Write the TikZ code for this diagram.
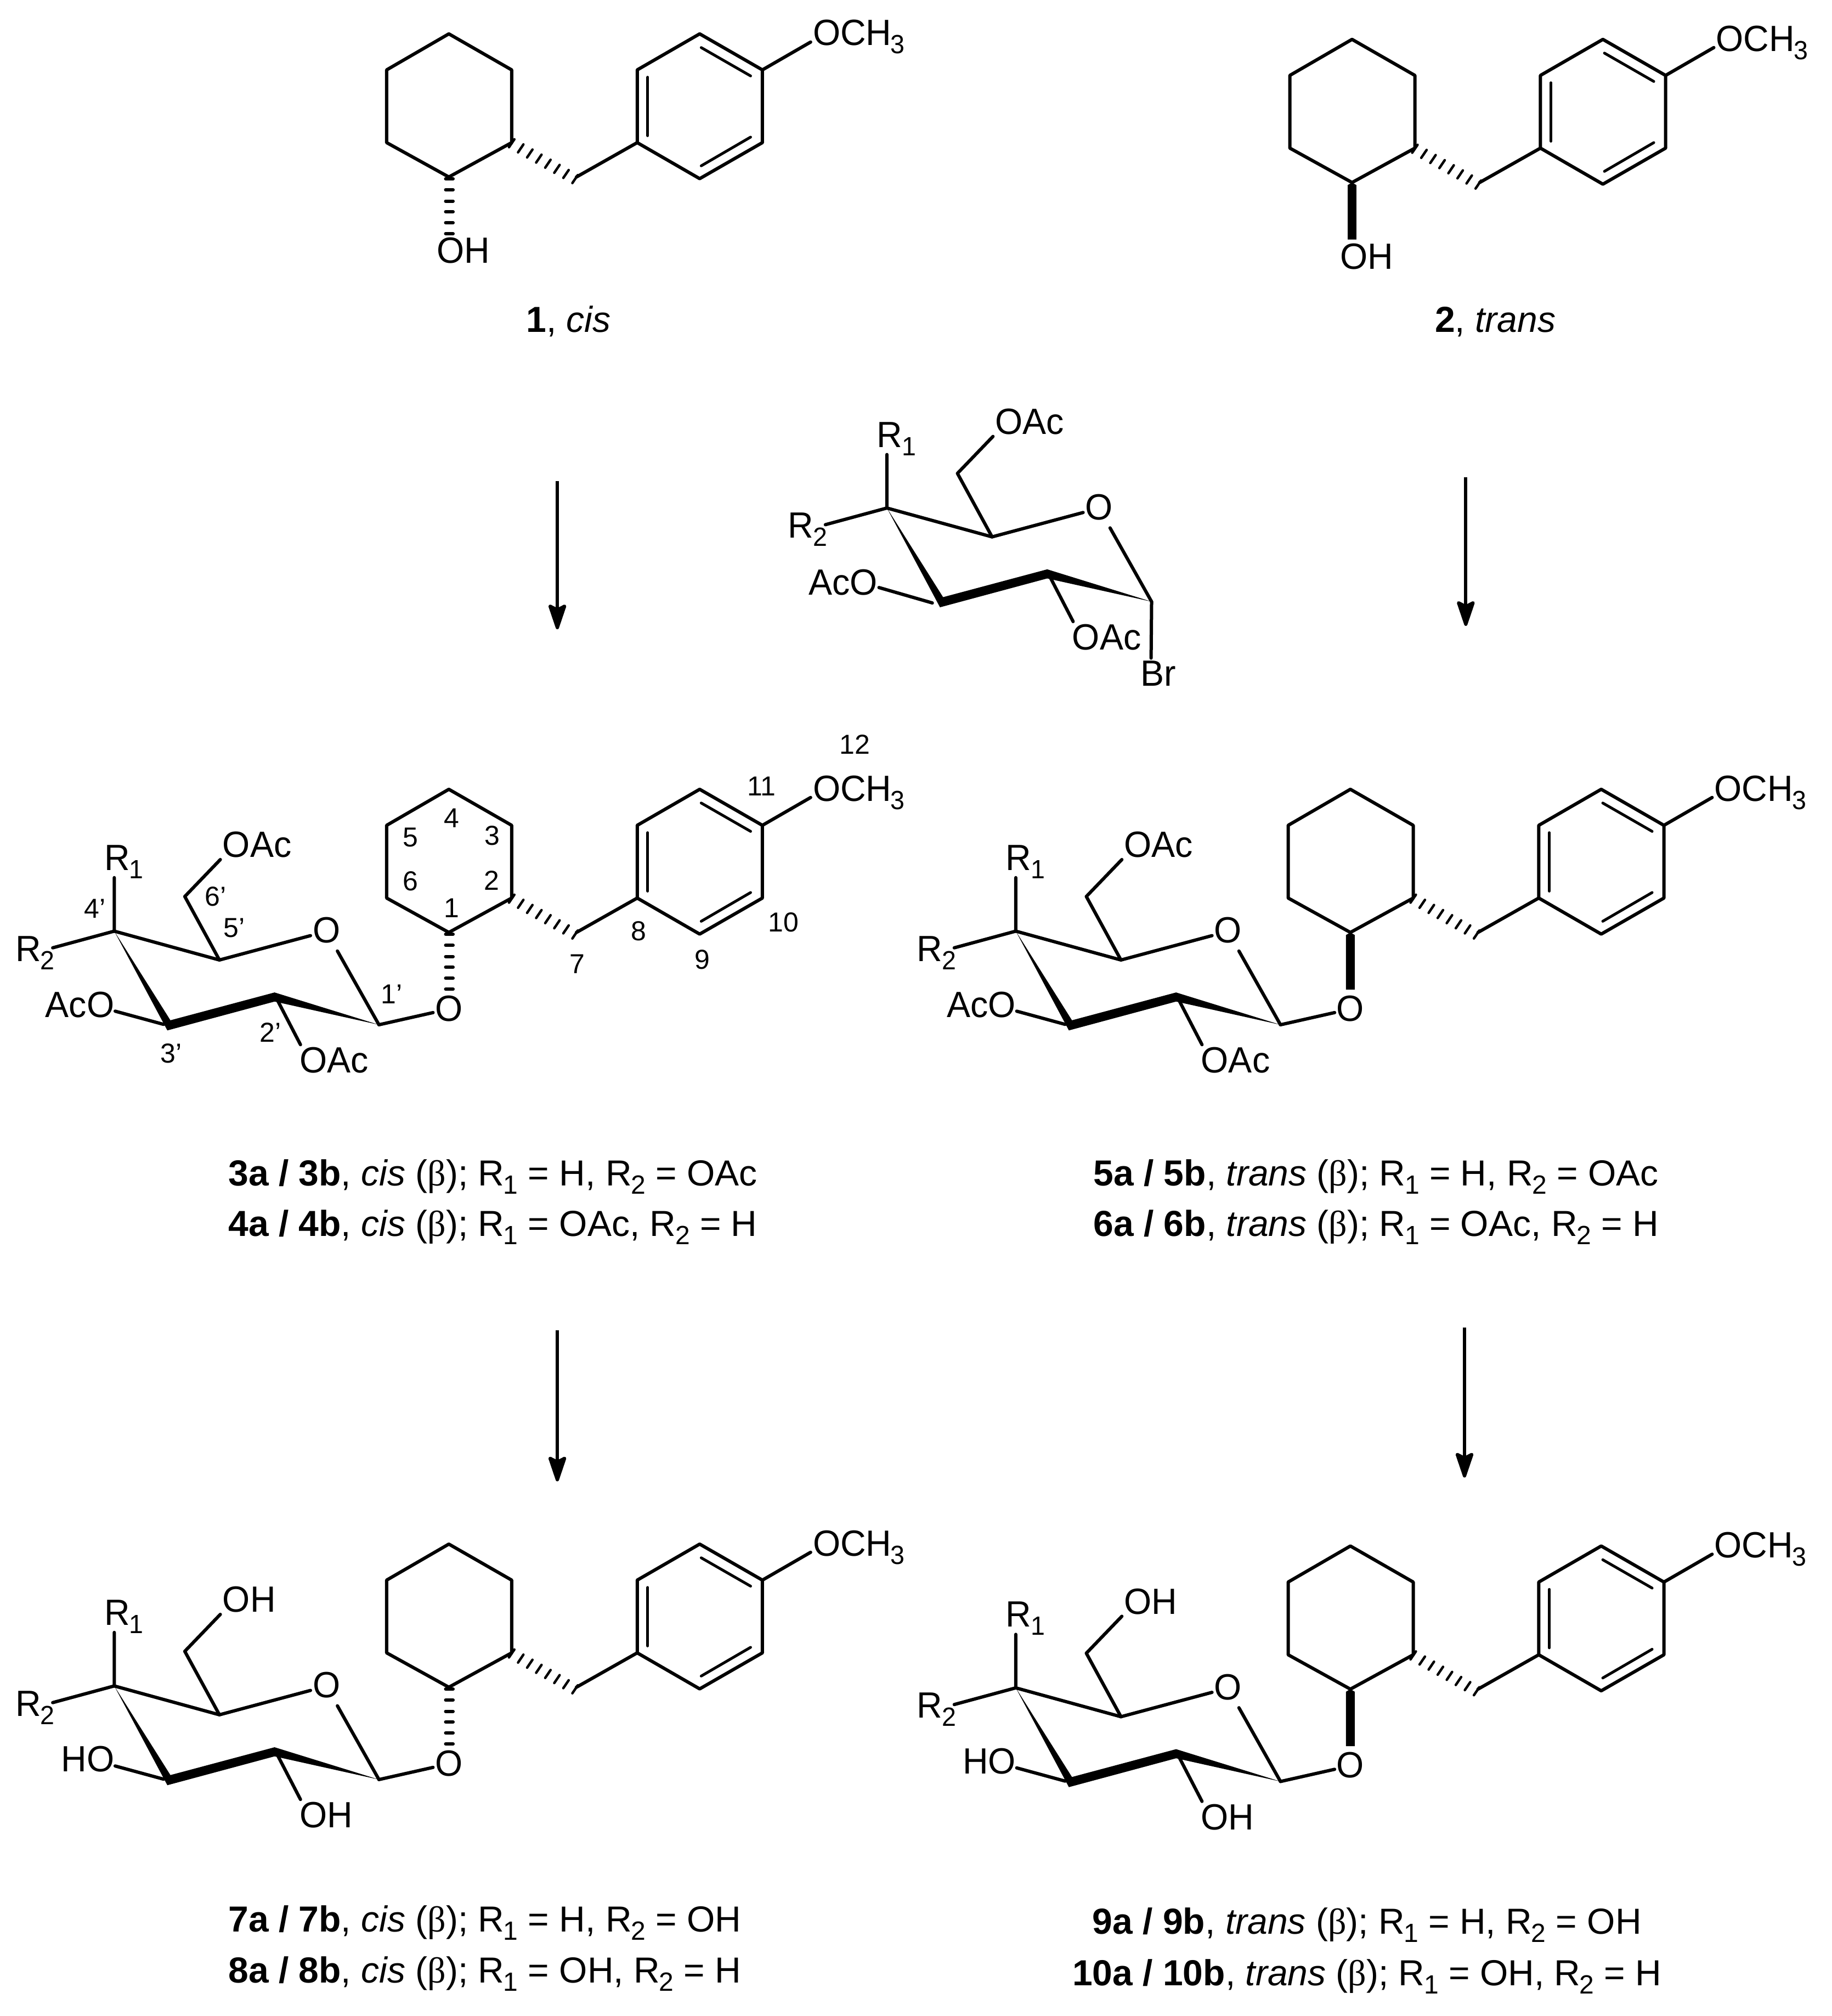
\documentclass[tikz,border=0pt]{standalone}
\usepackage{fontspec}
\setmainfont{Liberation Sans}
\newfontfamily\greekf{Liberation Serif}
\newfontfamily\lblfont[FakeStretch=0.97]{Liberation Sans}
\usetikzlibrary{arrows.meta}
\newcommand\lowidx[1]{\kern-1.5pt\raisebox{-15pt}{\fontsize{48}{48}\selectfont #1}}
\tikzset{
  bond/.style={line width=6pt,line join=round,line cap=round},
  innerbond/.style={line width=5pt,line cap=round},
  lbl/.style={inner sep=0pt,outer sep=0pt,anchor=base west,font=\lblfont\fontsize{66.5}{70}\selectfont},
  lblr/.style={lbl,anchor=base east},
  lblc/.style={lbl,anchor=base},
  numlbl/.style={inner sep=0pt,anchor=center,font=\fontsize{50}{54}\selectfont},
  captxt/.style={inner sep=0pt,anchor=base,font=\fontsize{66}{70}\selectfont},
  rxn/.style={line width=6pt,-{Stealth[length=54pt,width=36pt,inset=9pt,round]}},
}
% cyclohexane + hashed bond + benzyl + OCH3, local coordinates
\newcommand\Benzyl{%
  \coordinate (c1) at (350,138);\coordinate (c2) at (399,111.2);
  \coordinate (c3) at (399,54.5);\coordinate (c4) at (350,26.4);
  \coordinate (c5) at (301.5,54.5);\coordinate (c6) at (301.5,111.2);
  \coordinate (c7) at (449.5,138);\coordinate (c8) at (496.9,111.2);
  \coordinate (c9) at (545.6,139.3);\coordinate (c10) at (594.5,111.2);
  \coordinate (c11) at (594.5,54.5);\coordinate (c12) at (545.6,26.4);
  \coordinate (c13) at (496.9,54.5);\coordinate (oe) at (632.1,32.8);
  \draw[bond] (c1)--(c2)--(c3)--(c4)--(c5)--(c6)--cycle;
  \draw[bond] (c8)--(c9)--(c10)--(c11)--(c12)--(c13)--cycle;
  \draw[bond] (c7)--(c8);
  \draw[bond] (c11)--(oe);
  \draw[innerbond] (505.1,60.2)--(505.1,105.8);
  \draw[innerbond] (546.8,37.1)--(585.3,59.2);
  \draw[innerbond] (585.3,106.9)--(546.8,129.3);
  \foreach \k in {0,...,7}
    \draw[line width=4.5pt,line cap=round] (399+7.06*\k-2.1,111.7+3.99*\k+3.1)--(399+7.06*\k+2.1,111.7+3.99*\k-3.1);
  \node[lbl] (och) at (633.9,35.5) {OCH\lowidx{3}};
}
\newcommand\HashO{%
  \foreach \y in {139.4,148,156.8,165.1,173.7,182.2}
    \draw[line width=6pt,line cap=round] (350.4-2.9,\y)--(350.4+2.9,\y);
}
\newcommand\BoldO{%
  \fill (350-3.4,140)--(350,138)--(350+3.4,140)--(350+3.4,182.5)--(350-3.4,182.5)--cycle;
}
% sugar, local origin on C4'; #1 text of C6' substituent, #2 text of C2' substituent
\newcommand\Sugar[2]{%
  \coordinate (s4) at (0,0);\coordinate (s5) at (82,22.5);
  \coordinate (sob) at (153,3.5);\coordinate (soc) at (174,15.5);
  \coordinate (s1) at (206.4,73);\coordinate (s2) at (125,49.5);
  \coordinate (s3) at (43,74);\coordinate (s6) at (55,-27);
  \coordinate (s6e) at (82.7,-55.8);\coordinate (r1e) at (0,-41.7);
  \coordinate (r2e) at (-48,13);\coordinate (s2e) at (145.2,88.5);
  \draw[bond] (r1e)--(s4)--(s5)--(sob);
  \draw[bond] (r2e)--(s4);
  \draw[bond] (soc)--(s1);
  \draw[bond] (s5)--(s6)--(s6e);
  \draw[bond] (s2)--(s2e);
  \fill[line join=round] (s4)--(43.8,69.5)--(125,47.8)--(s1)--(125,54.9)--(41.4,77.4)--cycle;
  \node[lbl] (ttop) at (84.5,-57.5) {#1};
  \node[lbl] (rone) at (-7.7,-47.5) {R\lowidx{1}};
  \node[lbl] (rtwo) at (-77,23.4) {R\lowidx{2}};
  \node[lblc] (ring) at (165.5,9.1) {O};
  \node[lbl] (tlow) at (144.5,110.5) {#2};
}
\newcommand\Mol[3]{% #1 top text, #2 low text, #3 left text
  \Benzyl
  \begin{scope}[shift={(89.1,137)}]
    \Sugar{#1}{#2}
    \coordinate (ao) at (0.7,62.4);
    \draw[bond] (ao)--(38.5,72.7);
    \node[lblr] (aco) at (0,67) {#3};
    \coordinate (ol) at (248.6,63.5);
    \draw[bond] (s1)--(ol);
  \end{scope}
  \node[lblc] (olink) at (350,207.2) {O};
}
\begin{document}
\begin{tikzpicture}[x=2.338pt,y=-2.338pt]
\useasboundingbox (0,0) rectangle (1428.15,1571.86);
% compound 1
\begin{scope}[name prefix=ma-]
  \Benzyl\HashO
  \node[lbl] (oh) at (340.8,205.3) {OH};
\end{scope}
\node[captxt] (capa) at (443.3,258.8) {\textbf{1}, \textit{cis}};
% compound 2
\begin{scope}[shift={(704.3,4.3)},name prefix=mb-]
  \Benzyl\BoldO
  \node[lbl] (oh) at (340.8,205.3) {OH};
\end{scope}
\node[captxt] (capb) at (1166,258.8) {\textbf{2}, \textit{trans}};
% central sugar
\begin{scope}[shift={(691.6,396.1)},name prefix=mc-]
  \Sugar{OAc}{OAc}
  \coordinate (ao) at (-6.2,62);\coordinate (a3) at (35.4,74);
  \draw[bond] (ao)--(a3);
  \node[lblr] (aco) at (-7.2,67.8) {AcO};
  \coordinate (bre) at (206,117);
  \draw[bond] (s1)--(bre);
  \node[lbl] (br) at (198,138.8) {Br};
\end{scope}
% compounds 3-10
\begin{scope}[shift={(0,589)},name prefix=md-]
  \Mol{OAc}{OAc}{AcO}\HashO
  \node[numlbl] (n12) at (666.6,-8.6) {12};
  \node[numlbl] (n11) at (594,24) {11};
  \node[numlbl] (n4) at (352,49) {4};
  \node[numlbl] (n5) at (320,64) {5};
  \node[numlbl] (n3) at (384,62.5) {3};
  \node[numlbl] (n6) at (320,98) {6};
  \node[numlbl] (n2) at (383.6,97.5) {2};
  \node[numlbl] (n1) at (352,119) {1};
  \node[numlbl] (p6) at (168,110) {6'};
  \node[numlbl] (p4) at (74.1,119.6) {4'};
  \node[numlbl] (p5) at (182.5,134.5) {5'};
  \node[numlbl] (n8) at (498,137) {8};
  \node[numlbl] (n10) at (611,130) {10};
  \node[numlbl] (n7) at (450,162.5) {7};
  \node[numlbl] (n9) at (547.5,159) {9};
  \node[numlbl] (p1) at (305.5,186) {1'};
  \node[numlbl] (p2) at (211,216) {2'};
  \node[numlbl] (p3) at (133.6,232.2) {3'};
\end{scope}
\begin{scope}[shift={(703,589)},name prefix=me-]
  \Mol{OAc}{OAc}{AcO}\BoldO
\end{scope}
\begin{scope}[shift={(0,1177.5)},name prefix=mf-]
  \Mol{OH}{OH}{HO}\HashO
\end{scope}
\begin{scope}[shift={(703,1179)},name prefix=mg-]
  \Mol{OH}{OH}{HO}\BoldO
\end{scope}
% captions
\node[captxt] (lc3) at (384.3,924.3) {\textbf{3a / 3b}, \textit{cis} ({\greekf β}); R\lowidx{1} = H, R\lowidx{2} = OAc};
\node[captxt] (lc4) at (384.3,963.7) {\textbf{4a / 4b}, \textit{cis} ({\greekf β}); R\lowidx{1} = OAc, R\lowidx{2} = H};
\node[captxt] (lc5) at (1073,924.3) {\textbf{5a / 5b}, \textit{trans} ({\greekf β}); R\lowidx{1} = H, R\lowidx{2} = OAc};
\node[captxt] (lc6) at (1073,963.7) {\textbf{6a / 6b}, \textit{trans} ({\greekf β}); R\lowidx{1} = OAc, R\lowidx{2} = H};
\node[captxt] (lc7) at (378,1506) {\textbf{7a / 7b}, \textit{cis} ({\greekf β}); R\lowidx{1} = H, R\lowidx{2} = OH};
\node[captxt] (lc8) at (378,1546) {\textbf{8a / 8b}, \textit{cis} ({\greekf β}); R\lowidx{1} = OH, R\lowidx{2} = H};
\node[captxt] (lc9) at (1066,1508) {\textbf{9a / 9b}, \textit{trans} ({\greekf β}); R\lowidx{1} = H, R\lowidx{2} = OH};
\node[captxt] (lc10) at (1066,1548) {\textbf{10a / 10b}, \textit{trans} ({\greekf β}); R\lowidx{1} = OH, R\lowidx{2} = H};
% arrows
\coordinate (a1s) at (434.6,375);\coordinate (a1e) at (434.6,490.6);
\coordinate (a2s) at (1143,372);\coordinate (a2e) at (1143,488);
\coordinate (a3s) at (434.6,1037);\coordinate (a3e) at (434.6,1155);
\coordinate (a4s) at (1142,1035);\coordinate (a4e) at (1142,1152);
\draw[rxn] (a1s)--(a1e);
\draw[rxn] (a2s)--(a2e);
\draw[rxn] (a3s)--(a3e);
\draw[rxn] (a4s)--(a4e);
\end{tikzpicture}
\end{document}
